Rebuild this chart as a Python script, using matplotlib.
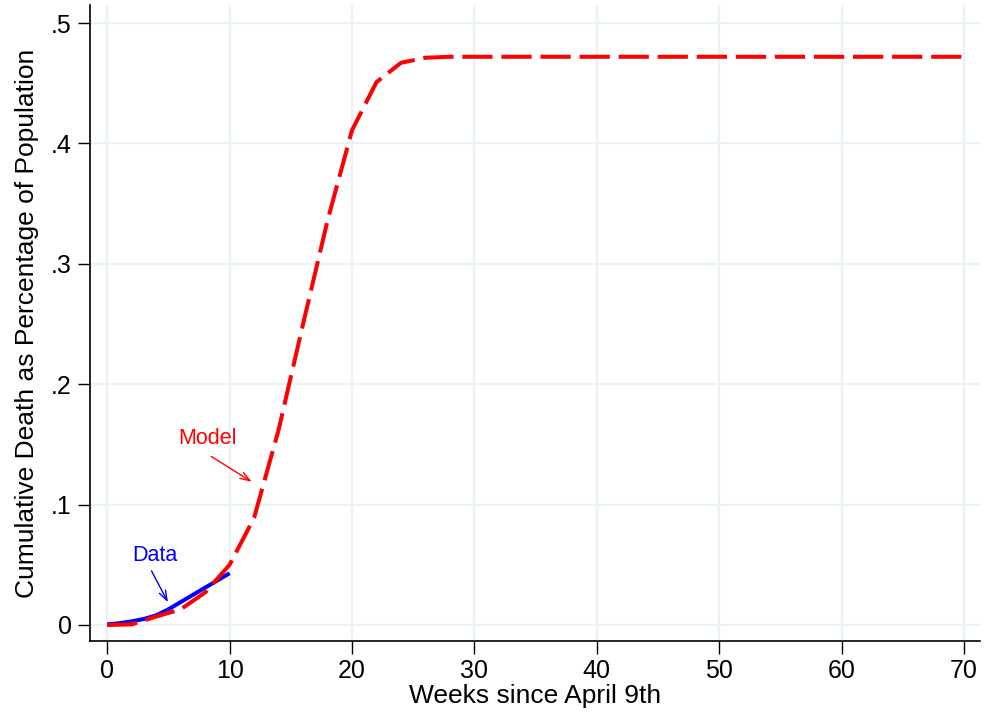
import matplotlib
matplotlib.use("Agg")
import matplotlib.pyplot as plt
from matplotlib import font_manager

model_weeks = [0, 2, 4, 6, 8, 10, 12, 14, 16, 18, 20, 22, 24, 26, 28, 30, 35, 40, 45, 50, 55, 60, 65, 70]
model_vals = [0.0, 0.0005, 0.007, 0.013, 0.027, 0.05, 0.089, 0.162, 0.25, 0.336, 0.411, 0.451, 0.467, 0.4712,
              0.472, 0.472, 0.472, 0.472, 0.472, 0.472, 0.472, 0.472, 0.472, 0.472]
data_weeks = [0, 1, 2, 3, 4, 5, 6, 7, 8, 9, 10]
data_vals = [0.0005, 0.0015, 0.003, 0.005, 0.008, 0.013, 0.019, 0.025, 0.031, 0.037, 0.043]
xticks = [0, 10, 20, 30, 40, 50, 60, 70]
yticks = [0, 0.1, 0.2, 0.3, 0.4, 0.5]
ytick_labels = ["0", ".1", ".2", ".3", ".4", ".5"]

names = {f.name for f in font_manager.fontManager.ttflist}
fam = ["Liberation Sans Narrow"] if "Liberation Sans Narrow" in names else ["Liberation Sans"]
plt.rcParams['font.family'] = fam + ["DejaVu Sans"]

fig = plt.figure(figsize=(9.84, 7.15), dpi=100)
ax = fig.add_axes([0.0915, 0.1035, 0.9045, 0.8895])
grid_c = "#eaf2f3"
for x in xticks:
    ax.axvline(x, color=grid_c, lw=1.6, zorder=0)
for y in yticks:
    ax.axhline(y, color=grid_c, lw=1.6, zorder=0)

ax.plot(data_weeks, data_vals, color="#0000ff", lw=2.9, zorder=2, solid_capstyle="butt")
ax.plot(model_weeks, model_vals, color="#ff0000", lw=2.9, zorder=3, dashes=(7.5, 2.2))

arrow_style = "->,head_length=0.7,head_width=0.25"
ax.text(3.9, 0.058, "Data", color="#0000ff", fontsize=15.5, ha="center", va="center")
ax.annotate("", xy=(4.96, 0.019), xytext=(3.62, 0.045),
            arrowprops=dict(arrowstyle=arrow_style, color="#0000ff", lw=1, shrinkA=0, shrinkB=0))
ax.text(8.2, 0.155, "Model", color="#ff0000", fontsize=15.5, ha="center", va="center")
ax.annotate("", xy=(11.8, 0.119), xytext=(8.5, 0.14),
            arrowprops=dict(arrowstyle=arrow_style, color="#ff0000", lw=1, shrinkA=0, shrinkB=0))

ax.set_xlim(-1.4, 71.3)
ax.set_ylim(-0.0133, 0.515)
ax.set_xticks(xticks)
ax.set_yticks(yticks)
ax.set_yticklabels(ytick_labels)
ax.tick_params(axis="both", labelsize=18, length=9, width=1, direction="out", pad=4)
for s in ["top", "right"]:
    ax.spines[s].set_visible(False)
for s in ["left", "bottom"]:
    ax.spines[s].set_linewidth(1.2)
ax.set_xlabel("Weeks since April 9th", fontsize=19, labelpad=1)
ax.set_ylabel("Cumulative Death as Percentage of Population", fontsize=19, labelpad=9)
fig.savefig("out.png", dpi=100)
